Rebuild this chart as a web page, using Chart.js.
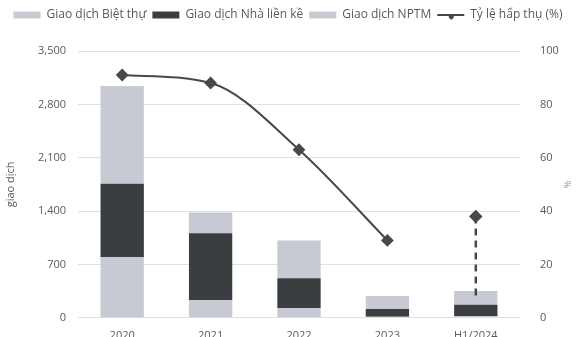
<!DOCTYPE html>
<html><head><meta charset="utf-8">
<script src="https://cdn.jsdelivr.net/npm/chart.js@4/dist/chart.umd.min.js"></script>
<style>html,body{margin:0;padding:0;background:#fff;overflow:hidden}#wrap{width:576px;height:337px;overflow:hidden}</style>
</head><body><div id="wrap"><canvas id="c" width="576" height="345"></canvas></div>
<script>
const categories = ['2020', '2021', '2022', '2023', 'H1/2024'];
const bietThu = [795, 235, 130, 15, 20];
const nhaLienKe = [965, 873, 390, 100, 150];
const nptm = [1280, 274, 495, 170, 180];
const tyLeHapThu = [91, 88, 63, 29, null];
const h1Point = [{x: 'H1/2024', y: 38}, {x: 'H1/2024', y: 8}];
const leftTicks = [0, 700, 1400, 2100, 2800, 3500];
const rightTicks = [0, 20, 40, 60, 80, 100];

const light = '#c8cad3';
const dark = '#3b3e40';
const lineCol = '#46494c';
const txt = '#5a5a5a';
Chart.defaults.font.family = 'Open Sans, Liberation Sans, sans-serif';
Chart.defaults.color = txt;

const legendMargin = {
  id: 'legendMargin',
  beforeLayout(chart) {
    const lg = chart.legend;
    if (lg && !lg._patched) {
      const fit = lg.fit.bind(lg);
      lg.fit = function () { fit(); this.height += 20; };
      lg._patched = true;
    }
  }
};

const diamondLegend = {
  id: 'diamondLegend',
  afterDraw(chart) {
    const lg = chart.legend;
    if (!lg || !lg.legendHitBoxes) return;
    const idx = lg.legendItems.findIndex(i => i.datasetIndex === 3);
    if (idx < 0) return;
    const b = lg.legendHitBoxes[idx];
    const ctx = chart.ctx;
    const cx = b.left + 14, cy = b.top + 8;
    ctx.save();
    ctx.fillStyle = lineCol;
    ctx.beginPath();
    ctx.moveTo(cx, cy - 3); ctx.lineTo(cx + 3, cy); ctx.lineTo(cx, cy + 3); ctx.lineTo(cx - 3, cy);
    ctx.closePath(); ctx.fill();
    ctx.restore();
  }
};

new Chart(document.getElementById('c'), {
  data: {
    labels: categories,
    datasets: [
      {type: 'bar', label: 'Giao dịch Biệt thự', data: bietThu, backgroundColor: light, yAxisID: 'y', stack: 's', order: 2, barPercentage: 0.49, categoryPercentage: 1},
      {type: 'bar', label: 'Giao dịch Nhà liền kề', data: nhaLienKe, backgroundColor: dark, yAxisID: 'y', stack: 's', order: 2, barPercentage: 0.49, categoryPercentage: 1},
      {type: 'bar', label: 'Giao dịch NPTM', data: nptm, backgroundColor: light, yAxisID: 'y', stack: 's', order: 2, barPercentage: 0.49, categoryPercentage: 1},
      {type: 'line', label: 'Tỷ lệ hấp thụ (%)', data: tyLeHapThu, borderColor: lineCol, backgroundColor: lineCol, borderWidth: 2, tension: 0.4, cubicInterpolationMode: 'monotone', pointStyle: 'rectRot', pointRadius: 5, pointBackgroundColor: lineCol, yAxisID: 'y1', order: 1, spanGaps: false},
      {type: 'line', label: 'drop', data: h1Point, borderColor: lineCol, backgroundColor: lineCol, borderWidth: 2.5, borderDash: [7, 5], pointStyle: 'rectRot', pointRadius: [5, 0], yAxisID: 'y1', order: 0}
    ]
  },
  options: {
    responsive: false,
    animation: false,
    layout: {padding: {left: 0, right: 0, top: 3, bottom: 0}},
    plugins: {
      legend: {
        position: 'top',
        labels: {
          filter: (item) => item.datasetIndex !== 4,
          sort: (a, b) => a.datasetIndex - b.datasetIndex,
          usePointStyle: true,
          pointStyleWidth: 27,
          boxHeight: 7,
          padding: 6,
          font: {size: 12},
          color: txt,
          generateLabels(chart) {
            const items = Chart.defaults.plugins.legend.labels.generateLabels(chart);
            items.forEach(it => {
              if (it.datasetIndex === 3) { it.pointStyle = 'line'; it.lineWidth = 2; it.strokeStyle = lineCol; }
              else { it.pointStyle = 'rect'; it.lineWidth = 0; }
            });
            return items;
          }
        }
      },
      tooltip: {enabled: false}
    },
    scales: {
      x: {
        stacked: true,
        grid: {display: false},
        border: {display: false},
        ticks: {font: {size: 11}, color: txt, padding: 3}
      },
      y: {
        stacked: true,
        position: 'left',
        min: 0, max: 3500,
        afterBuildTicks: (axis) => { axis.ticks = leftTicks.map(v => ({value: v})); },
        afterFit: (axis) => { axis.width = 78; },
        ticks: {font: {size: 11}, color: txt, padding: 12, callback: v => v.toLocaleString('en-US')},
        grid: {color: '#e0e0e0', drawTicks: false},
        border: {display: false},
        title: {display: true, text: 'giao dịch', font: {size: 11}, color: txt, padding: {top: 4, bottom: 4}}
      },
      y1: {
        position: 'right',
        min: 0, max: 100,
        afterBuildTicks: (axis) => { axis.ticks = rightTicks.map(v => ({value: v})); },
        afterFit: (axis) => { axis.width = 56; },
        ticks: {font: {size: 11}, color: txt, padding: 12},
        grid: {display: false},
        border: {display: false},
        title: {display: true, text: '%', font: {size: 9}, color: '#888', padding: {top: 4, bottom: 6}}
      }
    }
  },
  plugins: [legendMargin, diamondLegend]
});
</script>
</body></html>
